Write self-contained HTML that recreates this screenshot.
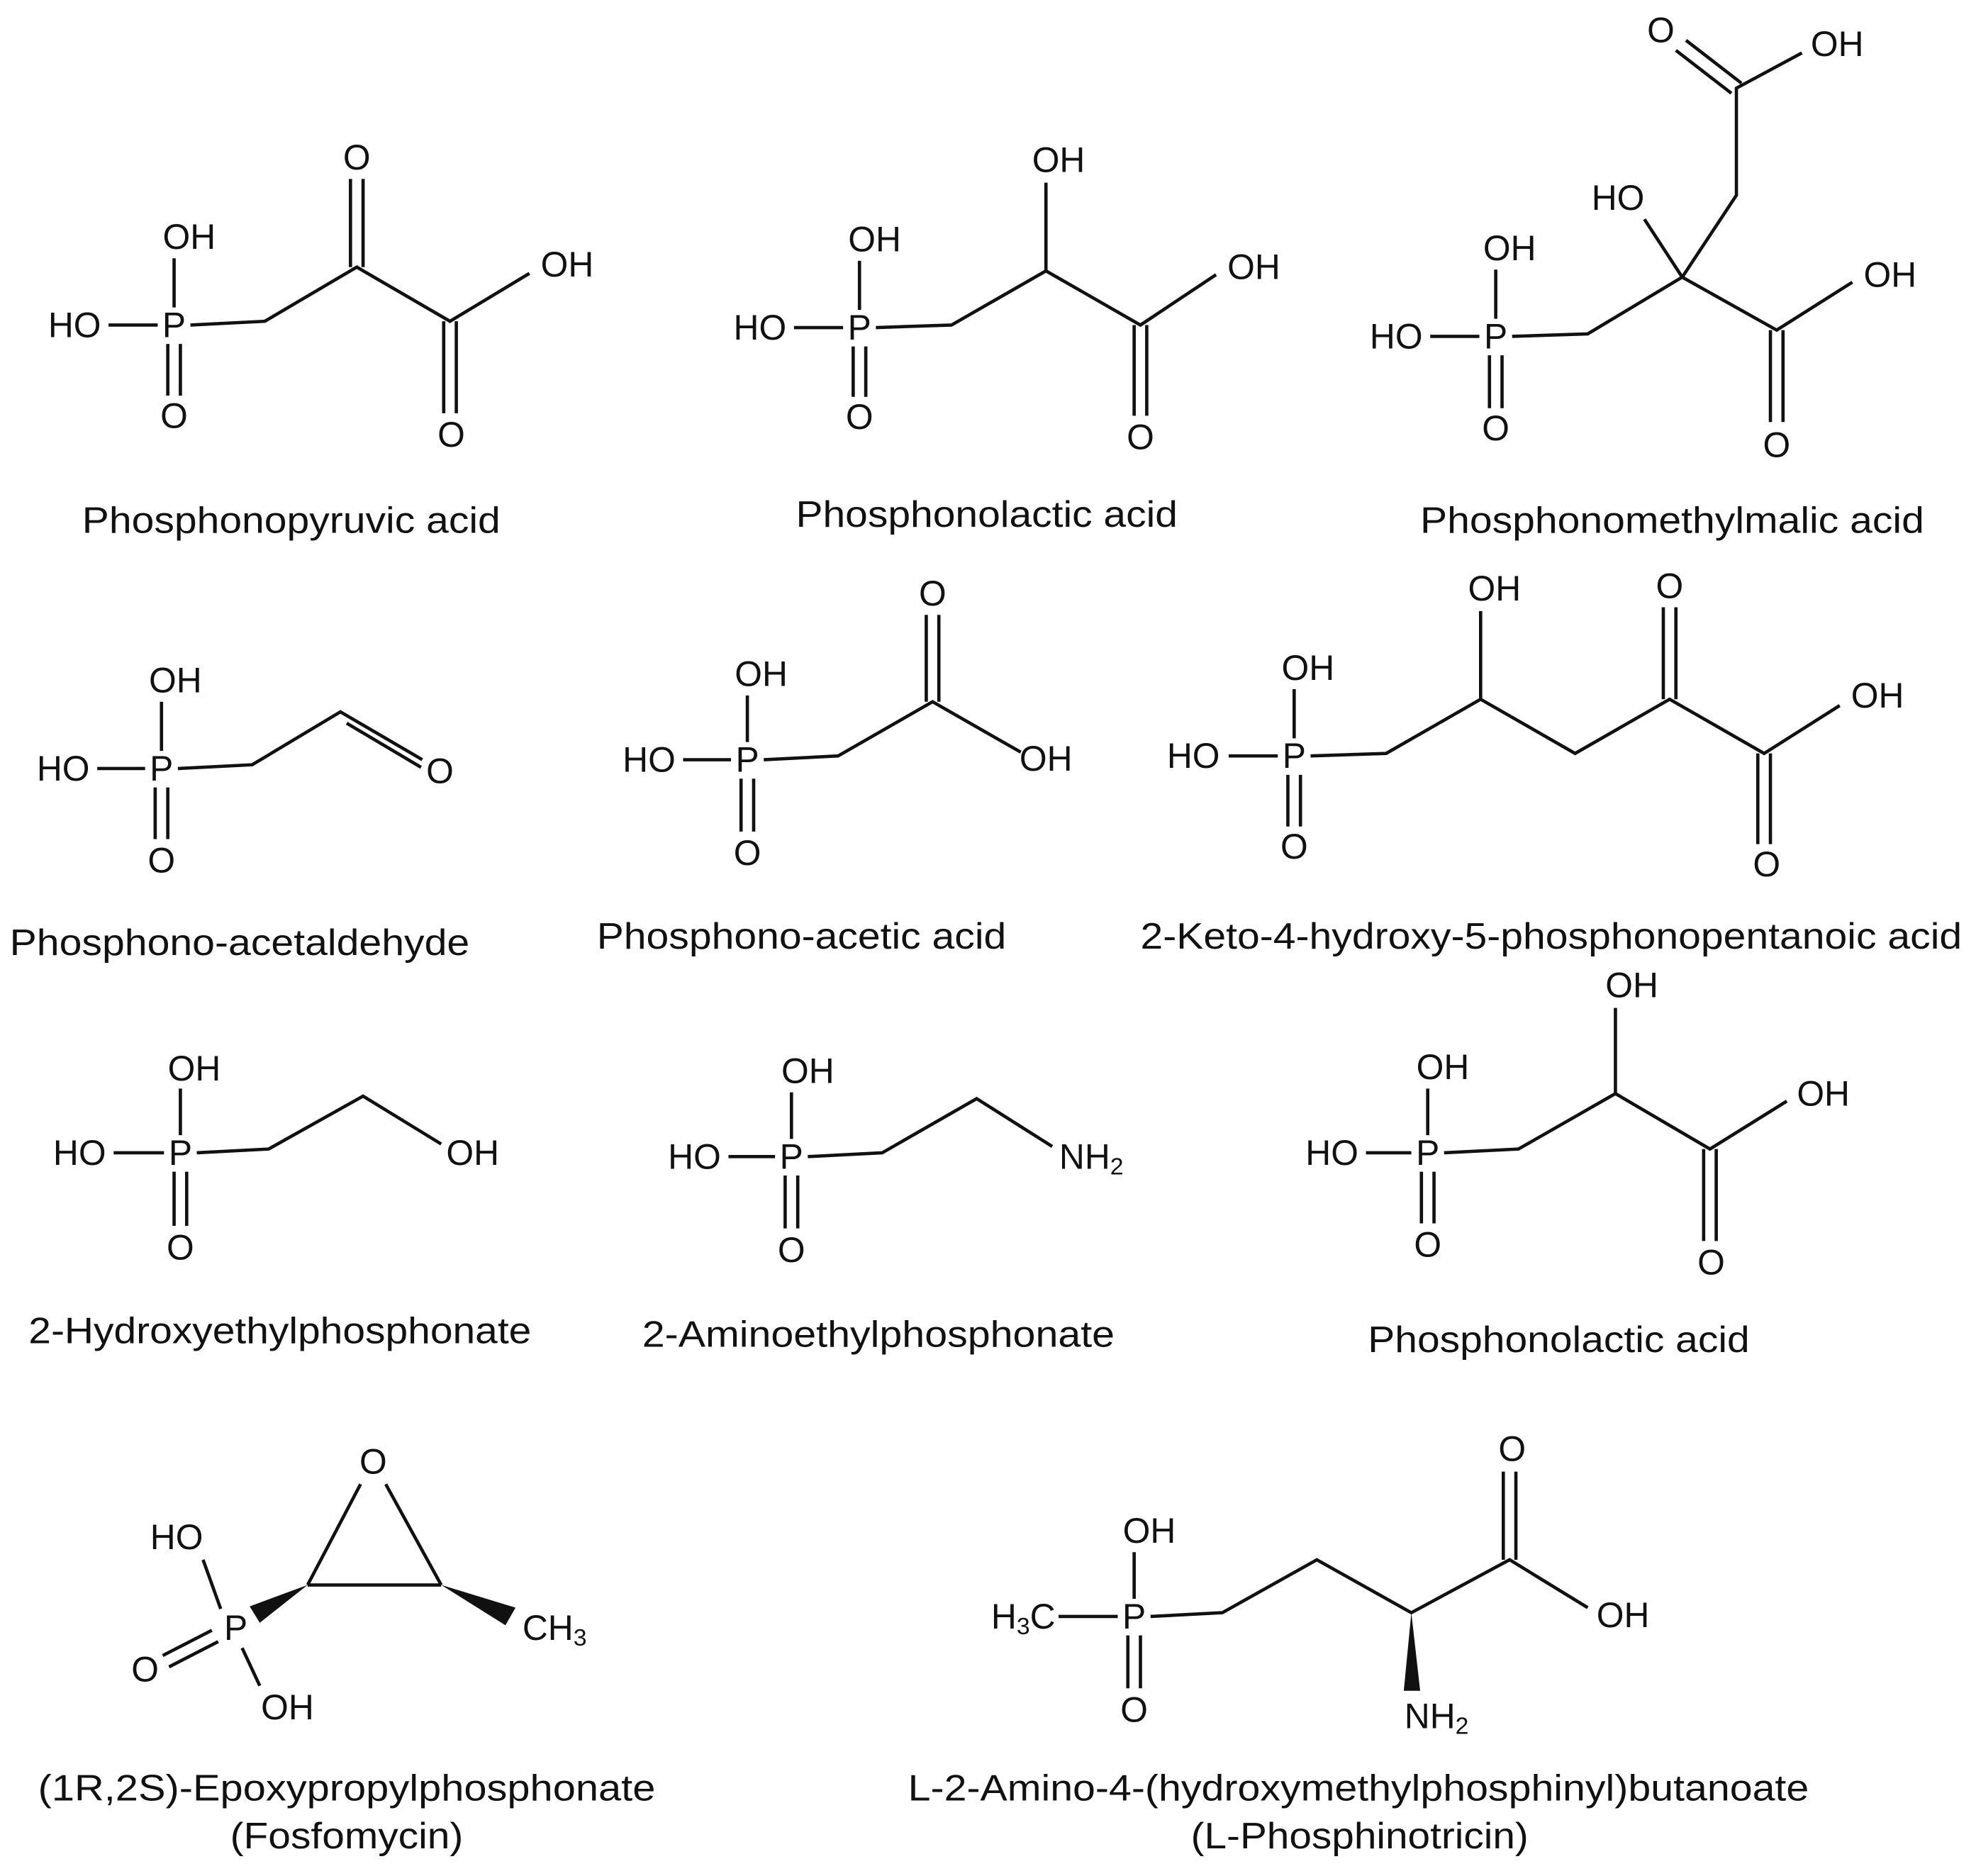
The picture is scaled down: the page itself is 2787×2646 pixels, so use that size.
<!DOCTYPE html>
<html><head><meta charset="utf-8"><style>
html,body{margin:0;padding:0;background:#fff;}
svg{display:block;}
text{font-family:"Liberation Sans",sans-serif;fill:#111;}
.a{font-size:28px;text-anchor:middle;dominant-baseline:central;}
.n{font-size:29px;text-anchor:middle;}
line,polyline{stroke:#111;stroke-width:2.6;fill:none;}
</style></head><body>
<svg width="2787" height="2646" viewBox="0 0 1568 1489" xmlns="http://www.w3.org/2000/svg">
<!-- 1 Phosphonopyruvic acid -->
<g>
<text class="a" x="59" y="258">HO</text><text class="a" x="138" y="258">P</text>
<text class="a" x="150" y="188">OH</text><text class="a" x="138" y="330">O</text>
<line x1="86" y1="258" x2="125" y2="258"/><line x1="138" y1="244" x2="138" y2="205"/>
<line x1="133" y1="273" x2="133" y2="314"/><line x1="143" y1="273" x2="143" y2="314"/>
<polyline points="151,258 210,255 283,212 357,255 420,217"/>
<text class="a" x="450" y="210">OH</text>
<line x1="278" y1="212" x2="278" y2="142"/><line x1="288" y1="212" x2="288" y2="142"/>
<text class="a" x="283" y="125">O</text>
<line x1="352" y1="255" x2="352" y2="328"/><line x1="362" y1="255" x2="362" y2="328"/>
<text class="a" x="358" y="345">O</text>
<text class="n" x="231" y="423" textLength="332" lengthAdjust="spacingAndGlyphs">Phosphonopyruvic acid</text>
</g>
<!-- 2 Phosphonolactic acid -->
<g>
<text class="a" x="603" y="260">HO</text><text class="a" x="682" y="260">P</text>
<text class="a" x="694" y="190">OH</text><text class="a" x="682" y="331">O</text>
<line x1="630" y1="260" x2="669" y2="260"/><line x1="682" y1="246" x2="682" y2="207"/>
<line x1="677" y1="275" x2="677" y2="315"/><line x1="687" y1="275" x2="687" y2="315"/>
<polyline points="695,260 755,258 830,215 905,258 965,218"/>
<text class="a" x="995" y="212">OH</text>
<line x1="830" y1="215" x2="830" y2="145"/><text class="a" x="840" y="127">OH</text>
<line x1="900" y1="258" x2="900" y2="330"/><line x1="910" y1="258" x2="910" y2="330"/>
<text class="a" x="905" y="347">O</text>
<text class="n" x="783" y="418" textLength="303" lengthAdjust="spacingAndGlyphs">Phosphonolactic acid</text>
</g>
<!-- 3 Phosphonomethylmalic acid -->
<g>
<text class="a" x="1108" y="267">HO</text><text class="a" x="1187" y="267">P</text>
<text class="a" x="1198" y="197">OH</text><text class="a" x="1187" y="340">O</text>
<line x1="1135" y1="267" x2="1174" y2="267"/><line x1="1187" y1="253" x2="1187" y2="214"/>
<line x1="1182" y1="282" x2="1182" y2="324"/><line x1="1192" y1="282" x2="1192" y2="324"/>
<polyline points="1200,267 1260,265 1335,220 1410,262 1470,224"/>
<text class="a" x="1500" y="218">OH</text>
<line x1="1335" y1="220" x2="1305" y2="174"/><text class="a" x="1284" y="157">HO</text>
<polyline points="1335,220 1378,155 1378,70 1430,42"/>
<text class="a" x="1458" y="35">OH</text>
<line x1="1374" y1="74" x2="1330" y2="40"/><line x1="1382" y1="66" x2="1338" y2="32"/>
<text class="a" x="1318" y="24">O</text>
<line x1="1405" y1="262" x2="1405" y2="335"/><line x1="1415" y1="262" x2="1415" y2="335"/>
<text class="a" x="1410" y="353">O</text>
<text class="n" x="1327" y="423" textLength="400" lengthAdjust="spacingAndGlyphs">Phosphonomethylmalic acid</text>
</g>
<!-- 4 Phosphono-acetaldehyde -->
<g>
<text class="a" x="50" y="610">HO</text><text class="a" x="128" y="610">P</text>
<text class="a" x="139" y="540">OH</text><text class="a" x="128" y="683">O</text>
<line x1="77" y1="610" x2="115" y2="610"/><line x1="128" y1="596" x2="128" y2="557"/>
<line x1="123" y1="625" x2="123" y2="666"/><line x1="133" y1="625" x2="133" y2="666"/>
<polyline points="141,610 200,607 270,565 335,603"/>
<line x1="275" y1="574" x2="334" y2="609"/>
<text class="a" x="349" y="612">O</text>
<text class="n" x="190" y="758" textLength="365" lengthAdjust="spacingAndGlyphs">Phosphono-acetaldehyde</text>
</g>
<!-- 5 Phosphono-acetic acid -->
<g>
<text class="a" x="515" y="603">HO</text><text class="a" x="593" y="603">P</text>
<text class="a" x="604" y="535">OH</text><text class="a" x="593" y="677">O</text>
<line x1="542" y1="603" x2="580" y2="603"/><line x1="593" y1="589" x2="593" y2="552"/>
<line x1="588" y1="618" x2="588" y2="660"/><line x1="598" y1="618" x2="598" y2="660"/>
<polyline points="606,603 665,600 740,557 810,597"/>
<text class="a" x="830" y="602">OH</text>
<line x1="735" y1="557" x2="735" y2="488"/><line x1="745" y1="557" x2="745" y2="488"/>
<text class="a" x="740" y="471">O</text>
<text class="n" x="636" y="753" textLength="325" lengthAdjust="spacingAndGlyphs">Phosphono-acetic acid</text>
</g>
<!-- 6 2-Keto-4-hydroxy -->
<g>
<text class="a" x="947" y="600">HO</text><text class="a" x="1027" y="600">P</text>
<text class="a" x="1038" y="530">OH</text><text class="a" x="1027" y="672">O</text>
<line x1="975" y1="600" x2="1014" y2="600"/><line x1="1027" y1="586" x2="1027" y2="547"/>
<line x1="1022" y1="615" x2="1022" y2="656"/><line x1="1032" y1="615" x2="1032" y2="656"/>
<polyline points="1040,600 1100,598 1175,555 1250,598 1325,555 1400,598 1460,560"/>
<text class="a" x="1490" y="552">OH</text>
<line x1="1175" y1="555" x2="1175" y2="485"/><text class="a" x="1186" y="467">OH</text>
<line x1="1320" y1="555" x2="1320" y2="482"/><line x1="1330" y1="555" x2="1330" y2="482"/>
<text class="a" x="1325" y="465">O</text>
<line x1="1395" y1="598" x2="1395" y2="670"/><line x1="1405" y1="598" x2="1405" y2="670"/>
<text class="a" x="1402" y="686">O</text>
<text class="n" x="1231" y="753" textLength="652" lengthAdjust="spacingAndGlyphs">2-Keto-4-hydroxy-5-phosphonopentanoic acid</text>
</g>
<!-- 7 2-Hydroxyethylphosphonate -->
<g>
<text class="a" x="63" y="915">HO</text><text class="a" x="143" y="915">P</text>
<text class="a" x="154" y="848">OH</text><text class="a" x="143" y="990">O</text>
<line x1="90" y1="915" x2="130" y2="915"/><line x1="143" y1="901" x2="143" y2="864"/>
<line x1="138" y1="930" x2="138" y2="973"/><line x1="148" y1="930" x2="148" y2="973"/>
<polyline points="156,915 213,912 288,870 350,908"/>
<text class="a" x="375" y="915">OH</text>
<text class="n" x="222" y="1066" textLength="399" lengthAdjust="spacingAndGlyphs">2-Hydroxyethylphosphonate</text>
</g>
<!-- 8 2-Aminoethylphosphonate -->
<g>
<text class="a" x="551" y="918">HO</text><text class="a" x="628" y="918">P</text>
<text class="a" x="641" y="850">OH</text><text class="a" x="628" y="992">O</text>
<line x1="578" y1="918" x2="615" y2="918"/><line x1="628" y1="904" x2="628" y2="867"/>
<line x1="623" y1="933" x2="623" y2="975"/><line x1="633" y1="933" x2="633" y2="975"/>
<polyline points="641,918 700,915 775,872 835,910"/>
<text class="a" x="866" y="918">NH<tspan font-size="19" dy="8">2</tspan></text>
<text class="n" x="697" y="1069" textLength="375" lengthAdjust="spacingAndGlyphs">2-Aminoethylphosphonate</text>
</g>
<!-- 9 Phosphonolactic acid -->
<g>
<text class="a" x="1057" y="915">HO</text><text class="a" x="1133" y="915">P</text>
<text class="a" x="1145" y="847">OH</text><text class="a" x="1133" y="988">O</text>
<line x1="1084" y1="915" x2="1120" y2="915"/><line x1="1133" y1="901" x2="1133" y2="864"/>
<line x1="1128" y1="930" x2="1128" y2="971"/><line x1="1138" y1="930" x2="1138" y2="971"/>
<polyline points="1146,915 1205,912 1282,868 1357,912 1418,874"/>
<text class="a" x="1447" y="868">OH</text>
<line x1="1282" y1="868" x2="1282" y2="800"/><text class="a" x="1295" y="782">OH</text>
<line x1="1352" y1="912" x2="1352" y2="985"/><line x1="1362" y1="912" x2="1362" y2="985"/>
<text class="a" x="1358" y="1002">O</text>
<text class="n" x="1237" y="1073" textLength="303" lengthAdjust="spacingAndGlyphs">Phosphonolactic acid</text>
</g>
<!-- 10 Fosfomycin -->
<g>
<text class="a" x="296" y="1160">O</text>
<line x1="286" y1="1178" x2="244" y2="1258"/><line x1="306" y1="1178" x2="350" y2="1258"/>
<line x1="244" y1="1258" x2="350" y2="1258" stroke="#555" stroke-width="3.5"/>
<polygon points="244,1258 198,1275 206,1288" fill="#111"/>
<polygon points="350,1258 409,1276 401,1290" fill="#111"/>
<text class="a" x="440" y="1292">CH<tspan font-size="19" dy="8">3</tspan></text>
<text class="a" x="187" y="1292">P</text>
<text class="a" x="140" y="1220">HO</text>
<line x1="161" y1="1238" x2="175" y2="1277"/>
<text class="a" x="115" y="1325">O</text>
<line x1="168" y1="1294" x2="129" y2="1314"/><line x1="173" y1="1303" x2="134" y2="1323"/>
<line x1="192" y1="1308" x2="206" y2="1338"/>
<text class="a" x="228" y="1355">OH</text>
<text class="n" x="275" y="1429" textLength="490" lengthAdjust="spacingAndGlyphs">(1R,2S)-Epoxypropylphosphonate</text>
<text class="n" x="275" y="1467" textLength="185" lengthAdjust="spacingAndGlyphs">(Fosfomycin)</text>
</g>
<!-- 11 Phosphinotricin -->
<g>
<text class="a" x="812" y="1283">H<tspan font-size="19" dy="8">3</tspan><tspan dy="-8">C</tspan></text>
<text class="a" x="900" y="1283">P</text>
<text class="a" x="912" y="1215">OH</text><text class="a" x="900" y="1357">O</text>
<line x1="840" y1="1283" x2="887" y2="1283"/><line x1="900" y1="1269" x2="900" y2="1232"/>
<line x1="895" y1="1298" x2="895" y2="1340"/><line x1="905" y1="1298" x2="905" y2="1340"/>
<polyline points="913,1283 970,1280 1045,1238 1120,1280 1198,1238 1260,1276"/>
<text class="a" x="1288" y="1282">OH</text>
<line x1="1193" y1="1238" x2="1193" y2="1168"/><line x1="1203" y1="1238" x2="1203" y2="1168"/>
<text class="a" x="1200" y="1150">O</text>
<polygon points="1120,1280 1114,1342 1127,1342" fill="#111"/>
<text class="a" x="1140" y="1362">NH<tspan font-size="19" dy="8">2</tspan></text>
<text class="n" x="1078" y="1429" textLength="715" lengthAdjust="spacingAndGlyphs">L-2-Amino-4-(hydroxymethylphosphinyl)butanoate</text>
<text class="n" x="1079" y="1467" textLength="268" lengthAdjust="spacingAndGlyphs">(L-Phosphinotricin)</text>
</g>
</svg>
</body></html>
